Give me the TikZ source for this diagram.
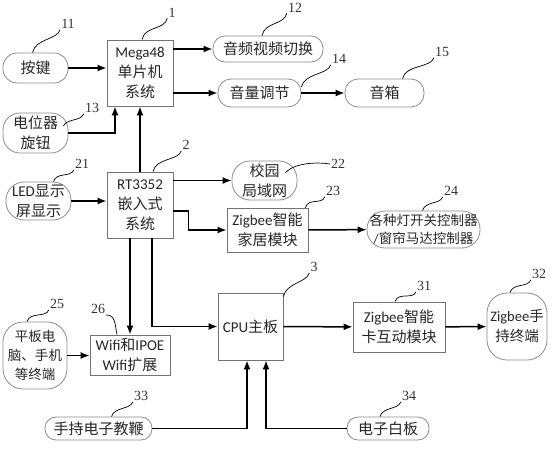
\documentclass[tikz,border=0pt]{standalone}
\usepackage{fontspec}
\setmainfont{Carlito}
\newfontfamily\cjk{Noto Sans CJK SC}
\newfontfamily\numfont{Liberation Serif}
\usetikzlibrary{arrows.meta}
\usetikzlibrary{calc}

\begin{document}
\begin{tikzpicture}[x=1pt,y=-1pt]
\tikzstyle box=[draw=black!55, line width=0.8pt, align=center, inner sep=0pt, text=black!85, font=\fontsize{15}{20}\selectfont];
\tikzstyle term=[box, draw=black!45];
\tikzstyle numlabel=[font=\numfont\fontsize{14}{14}\selectfont, inner sep=1pt, text=black!80];
\tikzstyle flow=[line width=1.5pt, -{Latex[length=9pt,width=7pt]}];
\tikzstyle leader=[line width=0.7pt];
\useasboundingbox (0,0) rectangle (554,450);

% first row: Mega48 and audio
\node[box, minimum width=66, minimum height=66] (mega) at (140,73) {Mega48\\{\cjk 单片机}\\{\cjk 系统}};
\node[term, rounded corners=14, minimum width=65, minimum height=30] (key) at (35.5,68) {\cjk 按键};
\node[term, rounded corners=17, minimum width=65, minimum height=40] (pot) at (35.5,133) {{\cjk 电位器}\\{\cjk 旋钮}};
\node[term, rounded corners=12, minimum width=110, minimum height=26] (av) at (268,49) {\cjk 音频视频切换};
\node[term, rounded corners=13, minimum width=83, minimum height=28] (vol) at (259.5,93) {\cjk 音量调节};
\node[term, rounded corners=13, minimum width=79, minimum height=28] (spk) at (384.5,93) {\cjk 音箱};

% second row: RT3352
\node[box, minimum width=66, minimum height=66] (rt) at (140,205) {RT3352\\{\cjk 嵌入式}\\{\cjk 系统}};
\node[term, rounded corners=18, minimum width=65, minimum height=38] (led) at (38.5,201) {LED{\cjk 显示}\\{\cjk 屏显示}};
\node[term, rounded corners=18, minimum width=65, minimum height=39] (lan) at (264.5,180.5) {{\cjk 校园}\\{\cjk 局域网}};
\node[box, minimum width=81, minimum height=44] (zb) at (267.5,230) {Zigbee{\cjk 智能}\\{\cjk 家居模块}};
\node[term, rounded corners=18, minimum width=113, minimum height=37, font=\fontsize{13.5}{18}\selectfont] (ctrl) at (423.5,229.5) {{\cjk 各种灯开关控制器}\\/{\cjk 窗帘马达控制器}};

% third row: CPU
\node[box, minimum width=65, minimum height=67] (cpu) at (250.5,326.5) {CPU{\cjk 主板}};
\node[box, minimum width=92, minimum height=50] (card) at (399,327) {Zigbee{\cjk 智能}\\{\cjk 卡互动模块}};
\node[term, rounded corners=20, minimum width=60, minimum height=67, font=\fontsize{14.5}{20}\selectfont] (hand) at (517,326.5) {Zigbee{\cjk 手}\\{\cjk 持终端}};
\node[box, minimum width=80, minimum height=40] (wifi) at (130,355) {Wifi{\cjk 和}IPOE\\Wifi{\cjk 扩展}};
\node[term, rounded corners=20, minimum width=64, minimum height=67, font=\fontsize{13.5}{19}\selectfont] (pad) at (35,355.5) {{\cjk 平板电}\\{\cjk 脑、手机}\\{\cjk 等终端}};
\node[term, rounded corners=11, minimum width=107, minimum height=23] (rod) at (98.5,428.5) {\cjk 手持电子教鞭};
\node[term, rounded corners=11, minimum width=82, minimum height=23] (wb) at (388,428.5) {\cjk 电子白板};

% arrows
\draw[flow] (key.east) -- (key.east -| mega.west);
\draw[flow] (pot.east) -| ([xshift=-25]mega.south);
\draw[flow] (rt.north) -- (mega.south);
\draw[flow] (mega.east |- av.west) -- (av.west);
\draw[flow] (mega.east |- vol.west) -- (vol.west);
\draw[flow] (vol) -- (spk);
\draw[flow] (led.east) -- (led.east -| rt.west);
\draw[flow] (rt.east |- lan.west) -- (lan.west);
\draw[flow] ([yshift=-6]rt.east) -- ++(15,0) |- (zb.west);
\draw[flow] (zb) -- (ctrl);
\draw[flow] (rt.south -| wifi.north) -- (wifi.north);
\draw[flow] ([xshift=12]rt.south) |- (cpu.west);
\draw[flow] (cpu) -- (card);
\draw[flow] (card) -- (hand);
\draw[flow] (pad.east) -- (pad.east -| wifi.west);
\draw[flow] (rod.east) -| ([xshift=-3.5]cpu.south);
\draw[flow] (wb.west) -| ([xshift=15.5]cpu.south);

% reference numbers
\node[numlabel] (l1) at (172,12.5) {1};
\node[numlabel] (l11) at (68,24) {11};
\node[numlabel] (l13) at (92,108) {13};
\node[numlabel] (l12) at (295,7.5) {12};
\node[numlabel] (l14) at (339,59) {14};
\node[numlabel] (l15) at (442,52) {15};
\node[numlabel] (l2) at (186,145) {2};
\node[numlabel] (l21) at (82,164) {21};
\node[numlabel] (l22) at (338,164) {22};
\node[numlabel] (l23) at (333,191) {23};
\node[numlabel] (l24) at (451,191) {24};
\node[numlabel] (l3) at (314,267) {3};
\node[numlabel] (l31) at (424,286) {31};
\node[numlabel] (l32) at (539,274) {32};
\node[numlabel] (l25) at (57,304) {25};
\node[numlabel] (l26) at (98,309) {26};
\node[numlabel] (l33) at (141,396) {33};
\node[numlabel] (l34) at (409,396) {34};

\draw[leader] ([xshift=2]mega.north) .. controls +(3,-14) and +(-3,12) .. (l1.south west);
\draw[leader] ([xshift=-3]key.north) .. controls +(3,-14) and +(-3,10) .. (l11.south west);
\draw[leader] ($(pot.east)+(-5,-7)$) .. controls +(4,-8) and +(-4,8) .. (l13.south west);
\draw[leader] ([xshift=-6]av.north) .. controls +(3,-14) and +(-3,12) .. (l12.south west);
\draw[leader] ([yshift=6]vol.east) .. controls +(3,-14) and +(-3,10) .. (l14.south west);
\draw[leader] ([xshift=18]spk.north) .. controls +(3,-14) and +(-3,10) .. (l15.south west);
\draw[leader] ([xshift=13]rt.north) .. controls +(3,-14) and +(-3,10) .. (l2.south west);
\draw[leader] ([xshift=15]led.north) .. controls +(3,-10) and +(-3,8) .. (l21.south west);
\draw[leader] ($(lan.east)+(-12,-8)$) .. controls +(10,-10) and +(-12,-2) .. (l22.west);
\draw[leader] ([xshift=-3]zb.north east) .. controls +(3,-10) and +(-3,8) .. (l23.south west);
\draw[leader] ([xshift=-1]ctrl.north) .. controls +(3,-10) and +(-3,8) .. (l24.south west);
\draw[leader] ([yshift=-4]cpu.north east) .. controls +(3,-14) and +(-3,10) .. (l3.south west);
\draw[leader] ([xshift=-4]card.north) .. controls +(3,-10) and +(-3,8) .. (l31.south west);
\draw[leader] ([xshift=-7]hand.north) .. controls +(3,-10) and +(-3,8) .. (l32.south west);
\draw[leader] ([xshift=-8]pad.north) .. controls +(3,-10) and +(-3,8) .. (l25.south west);
\draw[leader] (l26.south east) .. controls +(10,0) and +(-2,-8) .. ([xshift=-13]wifi.north);
\draw[leader] ([xshift=13]rod.north) .. controls +(3,-10) and +(-3,8) .. (l33.south west);
\draw[leader] ([xshift=-8]wb.north) .. controls +(3,-10) and +(-3,8) .. (l34.south west);
\end{tikzpicture}
\end{document}
